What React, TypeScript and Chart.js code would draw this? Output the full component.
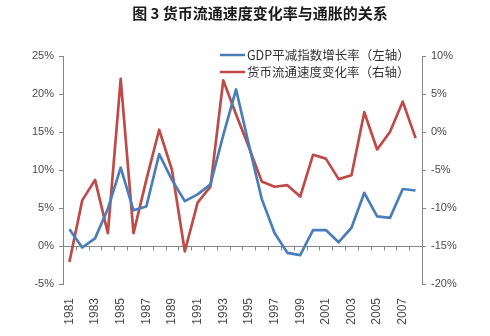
import React, { useEffect, useRef } from 'react';
import { Chart, registerables } from 'chart.js';

Chart.register(...registerables);

const TITLE = '图 3 货币流通速度变化率与通胀的关系';
const years = [
  '1981', '1982', '1983', '1984', '1985', '1986', '1987', '1988', '1989', '1990',
  '1991', '1992', '1993', '1994', '1995', '1996', '1997', '1998', '1999', '2000',
  '2001', '2002', '2003', '2004', '2005', '2006', '2007', '2008',
];
const gdpDeflator = [
  2.2, -0.2, 1.0, 4.9, 10.3, 4.7, 5.2, 12.1, 8.7, 5.9,
  6.8, 8.1, 14.6, 20.6, 13.3, 6.2, 1.7, -0.9, -1.2, 2.1,
  2.1, 0.5, 2.4, 7.0, 3.9, 3.7, 7.5, 7.3,
];
const velocityChange = [
  -17.1, -9.0, -6.3, -13.3, 7.0, -13.3, -6.3, 0.3, -5.0, -15.7,
  -9.3, -7.2, 6.8, 2.3, -2.0, -6.5, -7.2, -7.0, -8.5, -3.0,
  -3.5, -6.2, -5.7, 2.6, -2.3, 0.0, 4.0, -0.8,
];
const seriesLabels = ['GDP平减指数增长率（左轴）', '货币流通速度变化率（右轴）'];
const leftRange = [-5, 25];
const rightRange = [-20, 10];

const AXIS_COLOR = '#868686';
const TEXT_COLOR = '#4a4a4a';
const CJK = '"Noto Sans CJK SC", "Noto Sans", sans-serif';
const LATIN = '"Liberation Sans", Arial, sans-serif';

const decorPlugin = {
  id: 'decor',
  beforeDatasetsDraw(chart: any) {
    const { ctx, chartArea } = chart;
    const ys = chart.scales.y;
    const xs = chart.scales.x;
    const y0 = Math.round(ys.getPixelForValue(0)) + 0.5;
    ctx.save();
    ctx.strokeStyle = AXIS_COLOR;
    ctx.lineWidth = 1;
    ctx.beginPath();
    ctx.moveTo(chartArea.left, y0);
    ctx.lineTo(chartArea.right, y0);
    const n = years.length;
    const step = xs.getPixelForValue(1) - xs.getPixelForValue(0);
    for (let i = 0; i <= n; i++) {
      const x = Math.round(xs.getPixelForValue(0) - step / 2 + i * step) + 0.5;
      ctx.moveTo(x, y0);
      ctx.lineTo(x, y0 + 4);
    }
    ctx.stroke();
    ctx.restore();
  },
  afterDraw(chart: any) {
    const { ctx } = chart;
    ctx.save();
    ctx.fillStyle = '#1a1a1a';
    ctx.font = `bold 15px ${CJK}`;
    ctx.textAlign = 'center';
    ctx.textBaseline = 'middle';
    ctx.fillText(TITLE, 260, 13);

    chart.data.datasets.forEach((ds: any, i: number) => {
      const y = 55 + i * 17;
      ctx.strokeStyle = ds.borderColor;
      ctx.lineWidth = 2.5;
      ctx.beginPath();
      ctx.moveTo(220, y);
      ctx.lineTo(245, y);
      ctx.stroke();
      ctx.fillStyle = '#333333';
      ctx.font = `12.5px ${CJK}`;
      ctx.textAlign = 'left';
      ctx.textBaseline = 'middle';
      ctx.fillText(ds.label, 247, y);
    });
    ctx.restore();
  },
};

export default function App() {
  const ref = useRef<HTMLCanvasElement | null>(null);

  useEffect(() => {
    if (!ref.current) return;
    const axisCommon = {
      grid: {
        display: true,
        drawOnChartArea: false,
        drawTicks: true,
        tickLength: 4,
        color: AXIS_COLOR,
      },
      border: { display: true, color: AXIS_COLOR },
    };
    const chart = new Chart(ref.current, {
      type: 'line',
      data: {
        labels: years,
        datasets: [
          {
            label: seriesLabels[0],
            data: gdpDeflator,
            borderColor: '#4A7EBB',
            borderWidth: 2.7,
            pointRadius: 0,
            tension: 0,
            yAxisID: 'y',
            borderJoinStyle: 'round',
          },
          {
            label: seriesLabels[1],
            data: velocityChange,
            borderColor: '#BE4B48',
            borderWidth: 2.7,
            pointRadius: 0,
            tension: 0,
            yAxisID: 'y1',
            borderJoinStyle: 'round',
          },
        ],
      },
      options: {
        responsive: false,
        animation: false,
        layout: { padding: { top: 56, left: 0, right: 0, bottom: 0 } },
        plugins: {
          legend: { display: false },
          title: { display: false },
          tooltip: { enabled: false },
        },
        scales: {
          x: {
            type: 'category',
            offset: true,
            grid: { display: false, drawTicks: false },
            border: { display: false },
            ticks: {
              autoSkip: false,
              maxRotation: 90,
              minRotation: 90,
              padding: 14,
              color: TEXT_COLOR,
              font: { size: 12, family: LATIN },
              callback: (_v: any, i: number) => (i % 2 === 0 ? years[i] : ''),
            },
            afterFit: (s: any) => {
              s.height = 52;
            },
          },
          y: {
            position: 'left',
            min: leftRange[0],
            max: leftRange[1],
            ...axisCommon,
            ticks: {
              stepSize: 5,
              padding: 5,
              color: TEXT_COLOR,
              font: { size: 11, family: LATIN },
              callback: (v: any) => `${v}%`,
            },
            afterFit: (s: any) => {
              s.width = 63;
            },
          },
          y1: {
            position: 'right',
            min: rightRange[0],
            max: rightRange[1],
            ...axisCommon,
            ticks: {
              stepSize: 5,
              padding: 5,
              color: TEXT_COLOR,
              font: { size: 11, family: LATIN },
              callback: (v: any) => `${v}%`,
            },
            afterFit: (s: any) => {
              s.width = 68;
            },
          },
        },
      },
      plugins: [decorPlugin],
    } as any);
    return () => chart.destroy();
  }, []);

  return (
    <div style={{ position: 'absolute', left: 0, top: 0, width: 490, height: 336, background: '#fff' }}>
      <canvas ref={ref} width={490} height={336} style={{ display: 'block' }} />
    </div>
  );
}
